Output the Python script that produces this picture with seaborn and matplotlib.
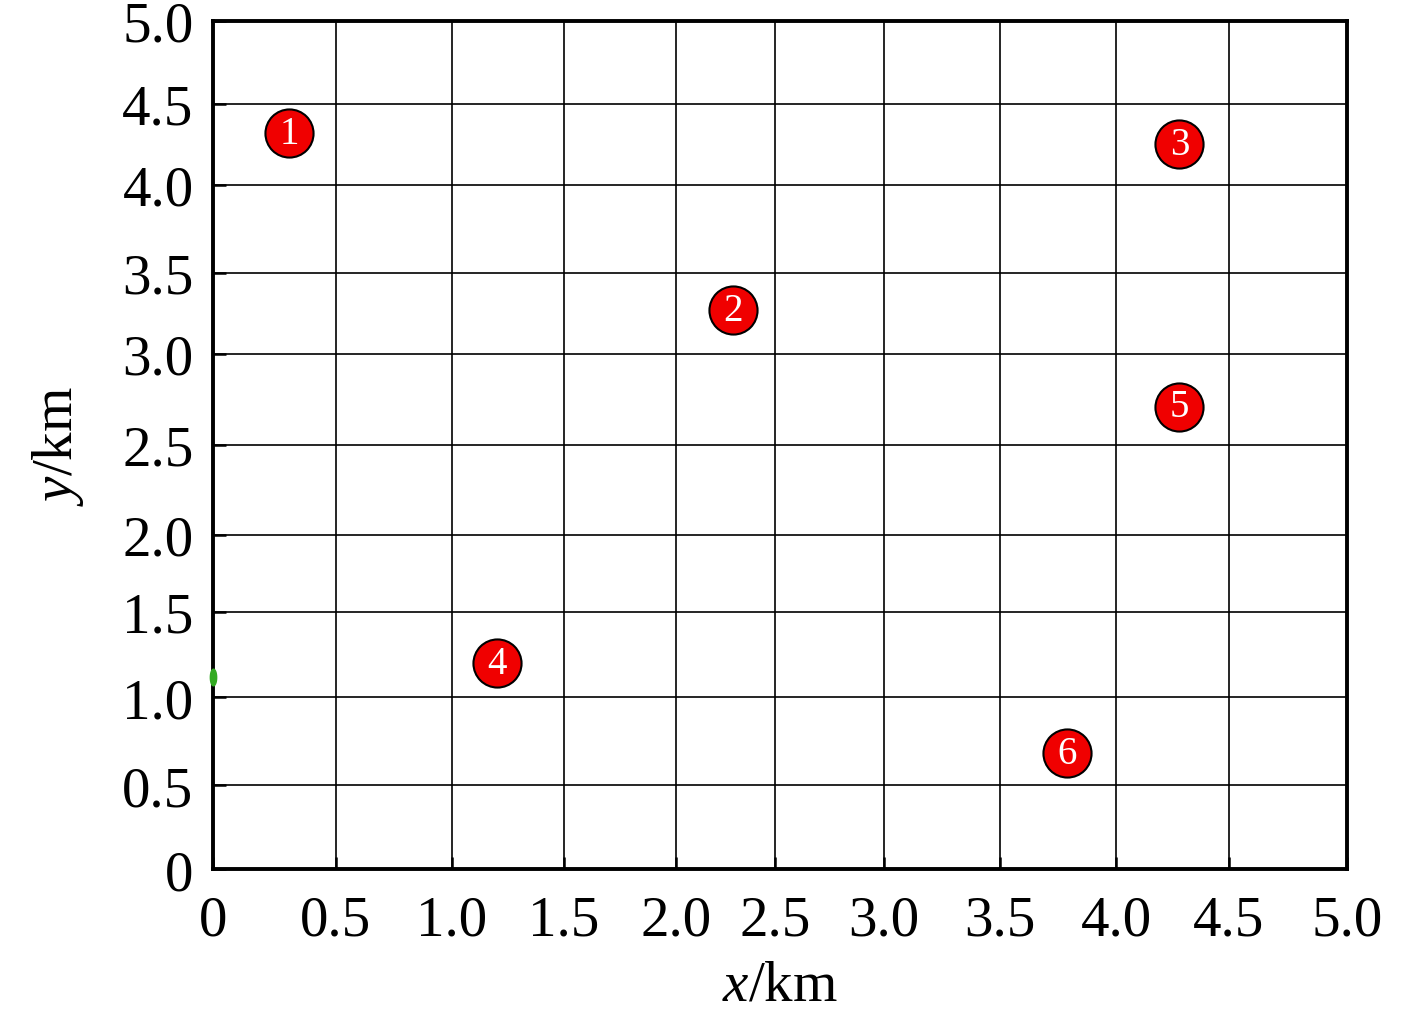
import numpy as np
import pandas as pd
import seaborn as sns
import matplotlib.pyplot as plt

# node positions (km)
node_ids = ['1', '2', '3', '4', '5', '6']
node_x = [0.31, 2.29, 4.28, 1.20, 4.28, 3.79]
node_y = [4.32, 3.27, 4.25, 1.20, 2.71, 0.68]

# small green mark on the y axis
mark_x = [0.0]
mark_y = [1.12]

tick_values = [0, 0.5, 1.0, 1.5, 2.0, 2.5, 3.0, 3.5, 4.0, 4.5, 5.0]
tick_labels = ['0', '0.5', '1.0', '1.5', '2.0', '2.5', '3.0', '3.5', '4.0', '4.5', '5.0']

# the original grid is drawn unevenly; keep the spacing as fractions of the axis
x_grid_frac = np.array([0, 123, 239, 351, 463, 562, 671, 787, 903, 1016, 1134]) / 1134
y_grid_frac = np.array([0, 84, 172, 257, 334, 424, 515, 596, 684, 765, 848]) / 848


def make_scale(frac):
    t = np.array(tick_values)
    fwd = lambda v: np.interp(v, t, frac)
    inv = lambda v: np.interp(v, frac, t)
    return fwd, inv


def main():
    sns.set_theme(style='ticks')
    plt.rcParams['font.family'] = ['Liberation Serif', 'DejaVu Serif']
    plt.rcParams['mathtext.fontset'] = 'custom'
    plt.rcParams['mathtext.rm'] = 'Liberation Serif'
    plt.rcParams['mathtext.it'] = 'Liberation Serif:italic'
    for k in ['text.color', 'axes.labelcolor', 'xtick.color', 'ytick.color']:
        plt.rcParams[k] = 'black'

    df = pd.DataFrame({'x': node_x, 'y': node_y, 'id': node_ids})

    fig = plt.figure(figsize=(14.17, 10.12), dpi=100)
    ax = fig.add_axes([0.1503, 0.1403, 0.8003, 0.8380])
    ax.set_xscale('function', functions=make_scale(x_grid_frac))
    ax.set_yscale('function', functions=make_scale(y_grid_frac))
    ax.set_xlim(0, 5)
    ax.set_ylim(0, 5)

    ax.set_xticks(tick_values)
    ax.set_xticklabels(tick_labels)
    ax.set_yticks(tick_values)
    ax.set_yticklabels(tick_labels)
    ax.minorticks_off()
    ax.grid(True, color='black', linewidth=1.2)
    ax.set_axisbelow(True)

    sns.scatterplot(data=df, x='x', y='y', ax=ax, s=1200, color='#f00000',
                    edgecolor='black', linewidth=1.5, zorder=3, legend=False)
    for _, r in df.iterrows():
        ax.text(r['x'], r['y'], r['id'], color='white', fontsize=28,
                ha='center', va='center', zorder=4)

    th = np.linspace(0, 2 * np.pi, 40)
    ellipse = np.column_stack([0.38 * np.cos(th), np.sin(th)])
    ax.plot(mark_x, mark_y, marker=ellipse, markersize=12, color='#33aa22',
            linestyle='none', zorder=5, clip_on=False)

    for sp in ax.spines.values():
        sp.set_linewidth(2.8)
        sp.set_color('black')
    ax.tick_params(direction='in', length=9, width=1.8, color='black',
                   labelsize=41, pad=14)
    ax.tick_params(axis='x', pad=18)

    ax.set_xlabel('$x$/km', fontsize=41, labelpad=10)
    ax.set_ylabel('$y$/km', fontsize=41, labelpad=26)

    fig.savefig('out.png', dpi=100)
    plt.close()


if __name__ == '__main__':
    main()
